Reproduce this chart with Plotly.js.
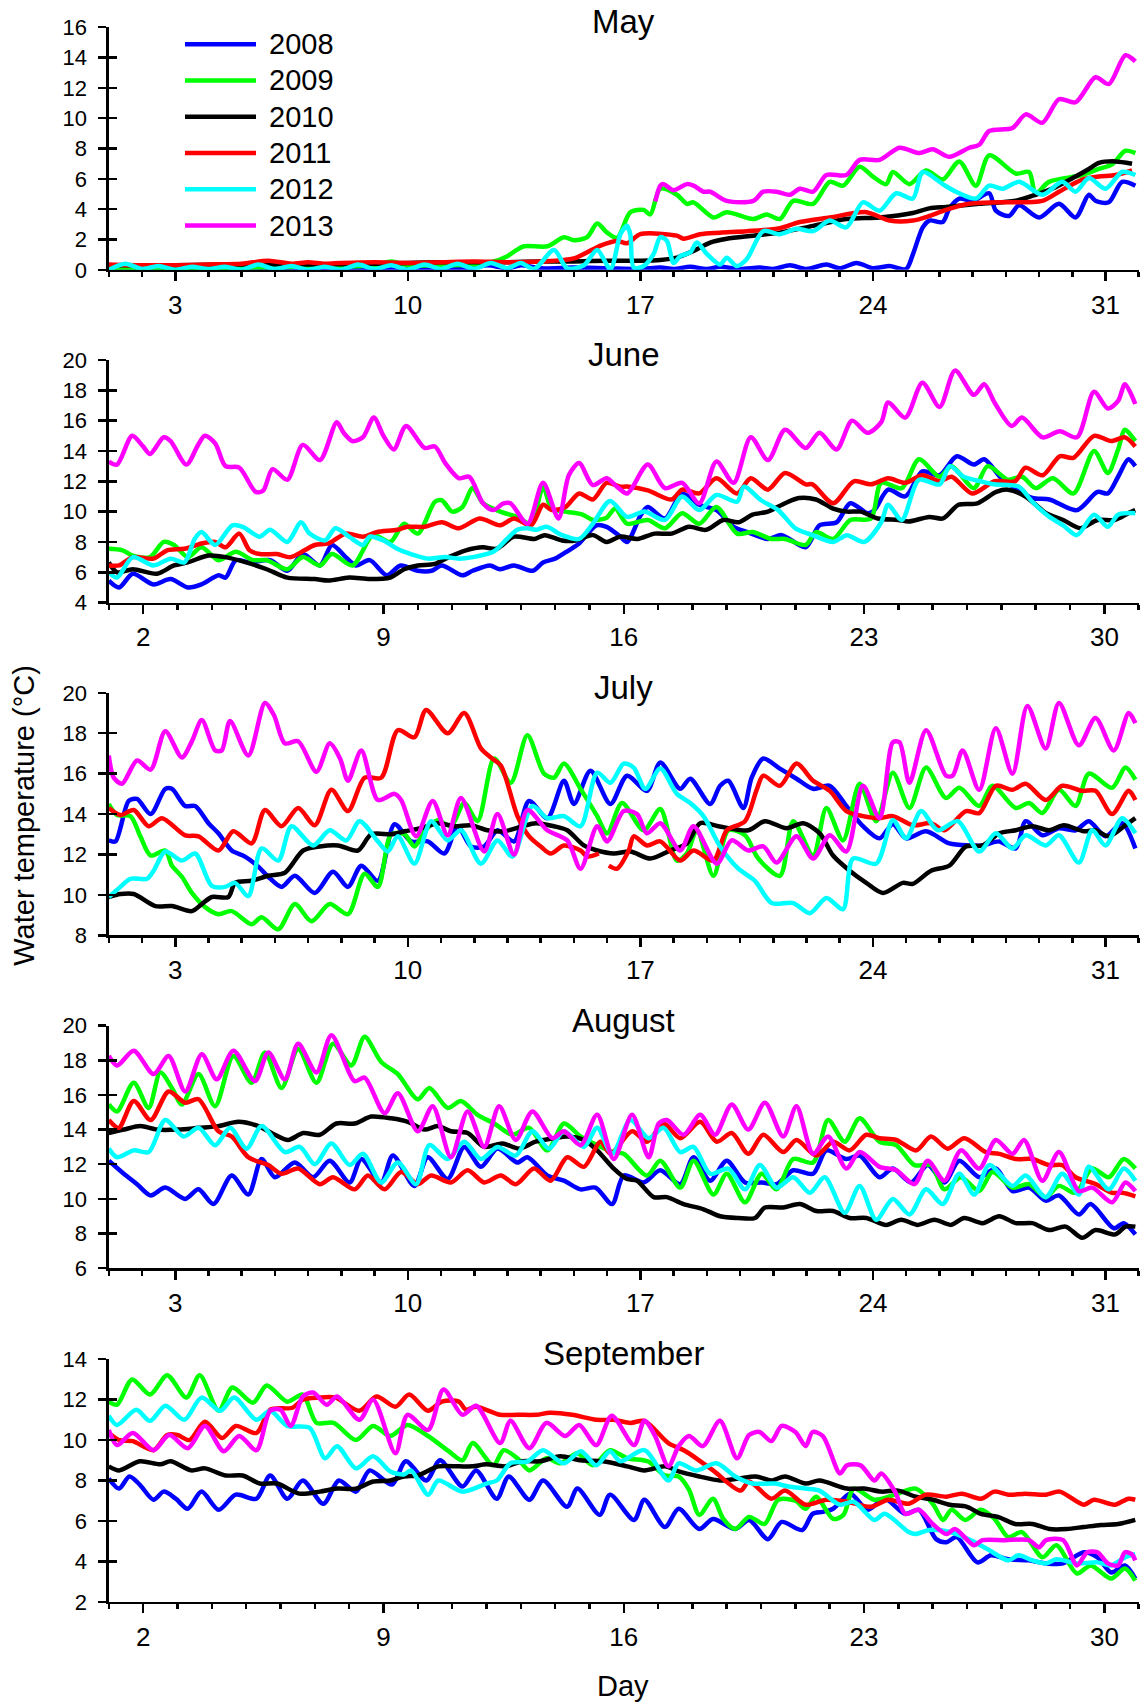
<!DOCTYPE html>
<html><head><meta charset="utf-8">
<script src="https://cdn.plot.ly/plotly-3.0.1.min.js"></script>
<style>html,body{margin:0;padding:0;background:#fff}#chart{width:1142px;height:1706px}</style>
</head><body><div id="chart"></div>
<script>
// ---------------- DATA (day of month, water temperature °C) ----------------
const YEARS = ['2008', '2009', '2010', '2011', '2012', '2013'];
const MONTHS = ['May', 'June', 'July', 'August', 'September'];

// May
const MAY_2008_DAY = [1,2,3,4,5,6,7,8,9,10,11,12,12.4,13,13.4,14,15,16,17,17.6,18,18.5,19,19.4,20,20.6,21,21.5,22,22.6,23,23.5,24,24.2,24.5,25,25.2,25.5,25.7,26.1,26.3,26.6,27,27.5,27.7,28.1,28.4,29,29.6,30.1,30.5,30.7,31.1,31.5,31.9];
const MAY_2008_TEMP = [0.05,0.1,0.05,0.1,0.05,0.1,0.05,0.1,0.1,0.05,0.1,0.15,0.3,0.1,0.3,0.1,0.15,0.1,0.05,0.15,0.05,0.2,0.05,0.2,0.05,0.15,0.05,0.3,0.05,0.35,0.1,0.45,0.1,0.15,0.25,0.05,1.0,2.8,3.25,3.15,4.05,4.7,4.55,5.05,3.9,3.55,4.25,3.45,4.35,3.45,4.95,4.55,4.45,5.8,5.55];
const MAY_2009_DAY = [1,3,5,7,9,9.5,10,11,12,12.5,13,13.2,13.5,14.2,14.7,15,15.4,15.7,16,16.3,16.7,17.1,17.3,17.6,18.1,18.4,18.6,19.2,19.6,20.4,20.8,21.2,21.6,22.2,22.7,23.1,23.6,24,24.4,24.6,25.1,25.6,26.1,26.6,27.1,27.5,28.3,28.7,28.9,29.3,30.3,30.8,31.2,31.6,31.9];
const MAY_2009_TEMP = [0.05,0.1,0.15,0.2,0.3,0.55,0.3,0.3,0.35,0.5,0.9,1.2,1.55,1.55,2.15,1.95,2.15,3.05,2.45,2.1,3.8,3.95,3.65,5.35,4.95,4.35,4.45,3.45,3.8,3.35,3.65,3.35,4.55,4.35,5.8,5.55,6.8,6.15,5.65,6.45,5.65,6.55,5.95,7.15,5.55,7.55,6.35,6.45,5.05,5.8,6.25,6.65,6.95,7.85,7.7];
const MAY_2010_DAY = [1,3,5,7,9,10,11,12,13,14,15,16,17,17.6,18.1,18.6,19.1,19.6,20.4,21.2,22.2,23.2,24.2,25.2,25.7,26.2,27.2,28.3,28.9,29.5,30.1,30.5,30.8,31.3,31.8];
const MAY_2010_TEMP = [0.3,0.3,0.35,0.35,0.4,0.45,0.5,0.5,0.5,0.55,0.55,0.6,0.6,0.65,0.8,1.25,1.8,2.05,2.25,2.45,2.9,3.35,3.45,3.75,4.05,4.15,4.35,4.55,4.95,5.45,6.15,6.65,7.05,7.15,7.0];
const MAY_2011_DAY = [1,2,3,4,5,5.8,6.5,7,7.5,8,9,10,11,12,13,14,15,15.8,16.3,16.6,17,18.1,18.3,18.8,19.4,20.2,21.2,21.8,22.7,23.8,24.5,25.2,25.7,26.2,26.9,27.8,29.1,29.6,30.3,30.8,31.3,31.8];
const MAY_2011_TEMP = [0.35,0.3,0.3,0.35,0.4,0.6,0.4,0.5,0.4,0.45,0.5,0.45,0.5,0.55,0.5,0.55,0.75,1.6,1.9,1.75,2.35,2.25,2.05,2.35,2.45,2.55,2.75,3.15,3.45,3.8,3.25,3.25,3.55,3.95,4.35,4.45,4.55,5.15,5.95,6.15,6.25,6.55];
const MAY_2012_DAY = [1,1.5,2,2.5,3,3.5,4,4.5,5,5.5,6,6.5,7,7.5,8,8.5,9,9.5,10,10.5,11,11.5,12,12.5,13,13.4,13.8,14.4,14.8,15.3,15.7,16.1,16.4,16.6,16.7,16.8,17.1,17.4,17.6,17.8,18,18.2,18.5,18.7,19,19.4,19.6,19.9,20.2,20.7,21.2,21.7,22.2,22.7,23.2,23.7,24.2,24.7,25.2,25.5,26.1,26.5,27.1,27.5,27.9,28.4,29.1,29.7,30.1,30.5,31,31.5,31.9];
const MAY_2012_TEMP = [0.0,0.4,0.05,0.25,0.0,0.2,0.05,0.2,0.0,0.35,0.05,0.25,0.0,0.2,0.0,0.35,0.05,0.3,0.0,0.35,0.05,0.4,0.05,0.45,0.1,0.45,0.05,1.3,0.1,0.3,1.3,0.05,2.35,2.9,2.3,0.15,0.25,1.05,2.15,1.9,0.45,0.9,1.15,1.8,1.05,0.35,0.8,0.25,0.7,2.55,2.35,2.7,2.55,3.25,2.8,4.45,3.9,5.05,4.7,6.45,5.65,5.15,4.7,5.55,5.35,5.8,4.95,5.8,5.15,6.05,5.35,6.45,6.25];
const MAY_2013_DAY = [17.45,17.6,17.7,18,18.4,18.6,18.9,19.1,19.6,20.4,20.7,21.1,21.5,21.8,22.2,22.6,23.2,23.6,24.2,24.8,25.4,25.8,26.3,26.9,27.2,27.5,28.2,28.6,29.1,29.6,30.1,30.7,31.1,31.6,31.9];
const MAY_2013_TEMP = [4.5,5.55,5.65,5.25,5.65,5.55,5.15,5.15,4.55,4.55,5.15,5.15,4.95,5.35,5.15,6.25,6.25,7.25,7.25,8.05,7.7,7.95,7.45,8.05,8.25,9.15,9.35,10.25,9.7,11.25,11.05,12.7,12.25,14.15,13.75];

// June
const JUN_2008_DAY = [1.0,1.3,1.7,2.3,2.8,3.3,3.7,4.2,4.4,4.7,5.1,5.7,6.2,6.65,7.15,7.5,7.9,8.2,8.6,9.1,9.5,10.0,10.4,10.7,11.3,11.6,12.1,12.4,12.8,13.35,13.65,14.0,14.4,14.7,15.2,15.5,15.9,16.1,16.5,16.7,17.2,17.7,18.2,18.7,19.2,19.6,20.2,20.6,21.3,21.7,22.2,22.6,23.1,23.3,23.7,24.2,24.7,25.2,25.7,26.2,26.5,27.0,27.4,27.9,28.4,29.2,29.8,30.1,30.4,30.7,30.9];
const JUN_2008_TEMP = [5.45,5.0,5.9,5.2,5.55,5.0,5.2,5.8,5.65,6.8,6.65,6.8,6.1,7.2,6.45,7.8,7.0,6.45,6.8,5.8,6.45,6.1,6.1,6.45,5.8,6.1,6.45,6.2,6.45,6.1,6.65,6.9,7.45,7.9,9.1,9.0,8.35,8.0,9.8,10.3,9.55,11.2,10.45,10.1,9.0,8.65,8.2,8.45,7.65,9.1,9.3,10.55,9.9,10.1,11.45,11.0,12.65,12.4,13.65,13.1,13.45,12.2,11.55,10.9,10.8,10.1,11.3,11.2,12.3,13.45,13.0];
const JUN_2009_DAY = [1.0,1.4,1.7,2.2,2.6,2.9,3.3,3.7,4.2,4.7,5.2,5.6,6.2,6.65,7.15,7.5,8.1,8.7,9.2,9.6,10.0,10.5,10.7,11.0,11.3,11.6,11.9,12.4,12.9,13.3,13.65,13.9,14.3,14.8,15.1,15.5,15.75,16.1,16.7,17.2,17.7,18.2,18.7,19.3,19.75,20.3,20.7,21.3,21.6,22.1,22.6,23.2,23.5,24.1,24.6,25.2,25.55,26.2,26.6,27.2,27.6,28.0,28.5,29.1,29.7,30.1,30.4,30.6,30.9];
const JUN_2009_TEMP = [7.55,7.45,7.1,7.0,8.0,7.8,7.0,7.65,6.8,7.35,6.8,6.8,6.2,7.0,6.45,7.2,6.45,8.45,8.0,9.2,8.55,10.65,10.75,10.0,10.3,11.55,10.55,10.0,9.65,9.2,11.65,10.2,10.0,9.8,9.45,9.6,10.2,9.2,9.45,8.9,9.9,9.2,10.3,8.55,8.65,8.2,8.2,7.8,8.65,8.2,9.45,9.55,11.9,11.55,13.45,12.3,13.0,11.55,13.0,12.1,12.3,11.55,12.2,11.2,14.0,12.55,14.1,15.4,14.65];
const JUN_2010_DAY = [1.0,1.24,1.7,2.4,2.9,3.3,3.9,4.4,5.0,5.6,6.2,7.0,7.4,8.0,8.6,9.2,9.6,10.0,10.5,10.9,11.4,11.9,12.3,12.8,13.4,13.7,14.2,14.6,15.1,15.5,15.9,16.4,16.9,17.4,17.9,18.4,18.9,19.35,19.75,20.2,20.7,21.1,21.6,22.1,22.5,22.9,23.4,24.0,24.3,24.9,25.3,25.75,26.3,26.85,27.2,27.7,28.3,28.8,29.3,29.8,30.3,30.7,30.9];
const JUN_2010_TEMP = [6.65,6.0,6.2,5.9,6.45,6.65,7.1,7.0,6.65,6.2,5.65,5.55,5.45,5.65,5.55,5.65,6.2,6.45,6.55,7.0,7.45,7.65,7.55,8.35,8.2,8.45,8.1,8.1,8.45,8.0,8.35,8.2,8.55,8.55,9.0,8.8,9.45,9.3,9.8,10.0,10.55,10.9,10.8,10.2,10.0,10.0,9.55,9.45,9.35,9.65,9.55,10.45,10.55,11.3,11.45,11.0,9.9,9.45,8.9,9.45,9.45,9.9,10.1];
const JUN_2011_DAY = [1.0,1.3,1.7,2.3,2.7,3.2,3.7,4.1,4.4,4.8,5.1,5.4,5.9,6.3,6.7,7.0,7.4,7.9,8.4,8.8,9.4,9.7,10.2,10.7,11.2,11.8,12.4,12.8,13.3,13.65,13.9,14.3,14.7,15.1,15.5,15.9,16.1,16.7,17.4,17.7,18.2,18.7,19.3,19.7,20.2,20.7,21.3,21.5,22.1,22.7,23.2,23.7,24.2,24.7,25.2,25.55,26.15,26.8,27.4,27.7,28.2,28.7,29.1,29.7,30.2,30.6,30.9];
const JUN_2011_TEMP = [6.45,6.45,7.0,6.9,7.45,7.55,7.9,8.0,7.65,8.55,7.45,7.2,7.2,7.0,7.45,7.8,7.9,8.55,8.35,8.65,8.8,9.0,9.0,9.3,8.9,9.55,9.1,9.55,9.1,10.45,10.1,10.3,11.2,10.8,11.9,11.65,11.65,11.4,10.8,11.45,11.2,12.2,11.2,12.2,11.45,12.55,11.8,11.8,10.55,12.0,11.8,12.2,11.9,12.4,12.0,12.3,11.2,12.0,12.0,12.9,12.4,13.65,13.55,15.0,14.65,14.9,14.3];
const JUN_2012_DAY = [1.0,1.24,1.7,2.3,2.8,3.2,3.5,3.7,4.1,4.6,4.9,5.4,5.7,6.2,6.6,6.85,7.3,7.6,8.0,8.4,8.6,9.0,9.4,9.8,10.3,10.8,11.2,11.6,12.2,12.6,12.9,13.2,13.45,13.75,14.2,14.7,15.1,15.6,16.1,16.6,17.2,17.7,18.2,18.7,19.3,19.5,20.0,20.5,21.0,21.5,22.1,22.5,23.0,23.5,23.7,24.1,24.6,25.2,25.5,25.9,26.4,26.8,27.5,27.9,28.4,28.8,29.2,29.7,30.1,30.4,30.9];
const JUN_2012_TEMP = [6.0,5.65,7.0,6.45,6.9,6.65,8.2,8.65,7.8,9.1,9.0,8.35,8.8,8.0,9.3,8.55,8.1,8.9,8.35,7.8,8.35,8.1,7.55,7.2,6.9,7.0,6.9,7.0,7.35,8.2,8.8,8.9,8.8,9.0,8.45,8.2,9.2,10.7,9.65,10.0,9.45,11.0,10.1,11.1,10.65,11.65,10.75,10.1,8.9,8.45,8.0,8.45,8.0,9.3,10.45,9.45,12.1,11.8,13.0,12.3,12.0,11.8,11.65,10.65,9.65,9.1,8.45,9.8,9.0,9.8,9.9];
const JUN_2013_DAY = [1.0,1.24,1.68,2.0,2.2,2.6,2.8,3.26,3.6,3.8,4.1,4.4,4.8,5.28,5.5,5.77,6.2,6.65,7.15,7.64,7.84,8.1,8.4,8.72,9.0,9.3,9.66,10.2,10.5,10.8,11.2,11.5,11.9,12.2,12.5,12.7,13.2,13.65,14.1,14.4,14.7,15.1,15.5,15.8,16.1,16.7,17.2,17.7,18.2,18.7,19.2,19.7,20.2,20.7,21.3,21.7,22.2,22.65,23.1,23.5,23.7,24.2,24.7,25.2,25.65,26.2,26.5,26.8,27.3,27.6,28.2,28.7,29.2,29.7,30.1,30.4,30.6,30.9];
const JUN_2013_TEMP = [13.3,13.1,15.0,14.3,13.8,14.9,14.65,13.1,14.4,15.0,14.5,13.0,12.9,11.3,11.4,12.8,12.1,14.4,13.4,15.9,15.2,14.65,14.9,16.2,15.0,14.1,15.65,14.2,14.3,13.2,12.2,12.3,10.55,10.1,10.55,10.55,9.2,11.9,9.55,12.4,13.2,11.75,12.2,11.65,11.2,13.1,11.55,11.9,10.55,13.3,11.9,14.9,13.4,15.4,14.2,15.2,14.1,16.0,15.2,15.9,17.2,16.2,18.5,16.9,19.3,17.7,18.4,17.2,15.65,16.2,14.9,15.3,14.9,17.9,16.8,17.3,18.4,17.1];

// July
const JUL_2008_DAY = [1.0,1.2,1.6,1.85,2.26,2.7,2.9,3.3,3.6,4.0,4.3,4.7,5.1,5.5,5.8,6.2,6.6,7.2,7.75,8.2,8.6,9.1,9.6,10.1,10.6,11.1,11.5,11.9,12.3,12.7,13.2,13.65,14.2,14.7,15.0,15.5,16.1,16.6,17.2,17.6,18.2,18.5,19.1,19.4,19.65,20.1,20.35,20.7,21.2,21.7,22.2,22.7,23.2,23.7,24.2,24.6,25.0,25.6,26.3,26.9,27.3,27.8,28.3,28.6,29.1,29.6,30.1,30.5,31.0,31.5,31.9];
const JUL_2008_TEMP = [12.7,12.65,14.65,14.75,14.0,15.25,15.25,14.4,14.4,13.55,13.05,12.2,11.9,11.4,10.9,10.4,10.95,10.1,11.15,10.4,11.45,10.7,13.5,12.65,12.65,12.05,13.4,12.4,12.4,13.2,12.65,14.65,13.8,15.65,14.5,16.15,14.5,15.9,15.15,16.55,15.25,15.75,14.5,15.4,15.65,14.3,15.8,16.75,16.25,15.75,15.25,15.4,14.4,13.4,12.8,13.5,12.8,13.15,12.55,12.45,12.45,12.65,12.3,13.65,12.95,13.3,13.2,13.65,12.9,13.55,12.3];
const JUL_2009_DAY = [1.0,1.25,1.65,1.95,2.26,2.7,2.9,3.2,3.5,3.9,4.3,4.7,5.3,5.6,6.1,6.6,7.1,7.65,8.2,8.7,9.1,9.5,9.9,10.2,10.5,10.9,11.3,11.7,12.1,12.6,13.1,13.6,14.1,14.4,14.7,15.2,15.7,16.0,16.45,17.1,17.6,18.1,18.4,18.7,19.2,19.65,20.15,20.55,21.2,21.6,22.2,22.6,23.1,23.6,24.1,24.6,25.1,25.6,26.2,26.6,27.2,27.6,28.3,28.7,29.1,29.6,30.1,30.5,31.2,31.6,31.9];
const JUL_2009_TEMP = [14.5,13.95,13.9,12.9,11.95,12.2,11.45,10.9,10.1,9.4,9.05,9.2,8.55,8.9,8.3,9.55,8.7,9.55,9.05,11.05,10.4,13.0,13.0,12.4,13.15,13.7,13.4,14.55,13.65,16.75,15.55,17.9,16.0,15.8,16.5,15.25,13.9,13.05,14.55,13.2,14.25,11.7,12.05,13.2,10.95,13.2,12.95,11.8,10.95,13.65,11.95,14.3,12.7,15.5,13.65,16.05,14.3,16.3,14.8,15.3,14.4,15.4,14.3,14.55,14.05,15.2,14.4,16.0,15.3,16.3,15.7];
const JUL_2010_DAY = [1.0,1.35,1.75,2.4,2.9,3.5,3.8,4.1,4.6,4.8,5.3,5.8,6.3,6.85,7.35,7.9,8.5,8.9,9.5,9.9,10.4,10.9,11.4,11.9,12.4,12.9,13.45,13.85,14.4,14.8,15.3,15.7,16.2,16.7,17.3,17.9,18.4,18.8,19.35,20.25,20.75,21.4,21.9,22.4,22.8,23.3,23.8,24.3,24.9,25.2,25.75,26.3,26.8,27.3,27.8,28.3,28.8,29.3,29.75,30.35,30.7,31.1,31.6,31.9];
const JUL_2010_TEMP = [9.9,10.05,10.05,9.45,9.45,9.2,9.55,9.9,9.9,10.6,10.7,10.95,11.1,12.2,12.4,12.45,12.2,13.0,13.0,13.15,13.3,13.55,13.4,13.45,13.2,13.15,13.4,13.55,13.4,13.2,12.45,12.2,12.05,12.15,11.8,12.2,12.55,13.55,13.4,13.2,13.65,13.3,13.55,13.05,11.95,11.2,10.6,10.1,10.6,10.55,11.2,11.45,12.4,12.45,13.05,13.2,13.4,13.2,13.45,13.15,13.2,12.9,13.45,13.8];
const JUL_2011_DAY = [1.0,1.35,1.75,2.2,2.6,3.3,3.7,4.3,4.75,5.3,5.7,6.2,6.7,7.2,7.7,8.2,8.7,9.2,9.7,10.2,10.55,11.2,11.7,12.2,12.5,12.8,13.3,13.65,14.0,14.3,14.7,15.2,15.4,15.75,15.9,16.05,16.3,16.65,16.8,17.2,17.6,18.2,18.6,19.2,19.6,20.15,20.5,20.7,21.2,21.7,22.2,22.7,23.2,23.7,24.2,24.6,25.2,25.75,26.15,26.8,27.2,27.7,28.2,28.6,29.2,29.7,30.3,30.7,31.2,31.7,31.9];
const JUL_2011_TEMP = [14.3,13.95,14.2,13.4,13.8,12.95,12.9,12.2,13.15,12.55,14.2,13.4,14.3,13.45,15.2,14.15,15.8,15.8,18.15,17.8,19.15,18.0,19.0,17.25,16.8,16.4,13.9,12.9,12.4,12.05,12.45,12.2,11.9,12.05,null,11.45,11.3,12.2,12.9,12.45,12.65,11.7,12.2,11.7,13.2,13.65,15.2,15.9,15.4,16.5,15.65,15.15,14.15,13.9,13.8,13.9,13.45,13.55,13.2,14.15,14.05,15.4,15.2,15.5,14.7,15.4,15.15,15.15,14.0,15.15,14.7];
const JUL_2012_DAY = [1.0,1.35,1.65,2.15,2.35,2.7,3.2,3.6,4.1,4.5,4.8,5.2,5.6,6.1,6.5,7.15,7.65,8.15,8.55,9.1,9.4,9.7,10.2,10.7,11.2,11.6,12.2,12.7,13.15,13.75,14.2,14.7,15.2,15.7,16.1,16.5,16.8,17.15,17.6,18.1,18.5,18.9,19.4,19.95,20.45,20.95,21.6,22.1,22.6,23.1,23.4,24.1,24.6,25.0,25.45,25.95,26.55,27.2,27.7,28.2,28.6,29.2,29.6,30.2,30.6,31.0,31.5,31.9];
const JUL_2012_TEMP = [9.9,10.4,10.8,10.8,11.2,12.15,11.7,12.05,10.45,10.4,10.6,9.95,12.3,11.7,13.4,12.45,13.2,12.7,13.65,12.65,12.15,12.9,11.55,13.65,12.7,13.2,11.55,12.7,11.9,14.4,13.8,13.9,13.4,16.05,15.55,16.5,16.3,15.25,16.25,15.0,14.55,13.9,12.4,11.3,10.7,9.6,9.6,9.1,9.85,9.3,11.8,11.55,13.7,12.8,14.15,13.2,13.65,12.15,13.05,12.3,12.95,12.45,12.95,11.6,13.2,12.45,13.8,13.05];
const JUL_2013_DAY = [1.0,1.15,1.4,1.85,2.26,2.7,3.2,3.5,3.8,4.2,4.4,4.65,5.2,5.7,5.97,6.3,6.7,7.25,7.65,7.96,8.2,8.6,9.1,9.6,9.8,10.25,10.75,11.2,11.6,12.3,12.7,13.2,13.6,14.2,14.8,15.2,15.7,16.0,16.5,16.9,17.2,17.6,18.2,18.6,19.3,19.75,20.25,20.7,21.1,21.7,22.2,22.7,23.2,23.7,24.2,24.6,24.8,25.1,25.6,26.2,26.4,26.7,27.2,27.7,28.2,28.65,29.2,29.6,30.2,30.7,31.25,31.7,31.9];
const JUL_2013_TEMP = [16.9,15.8,15.5,16.65,16.2,18.1,16.8,17.6,18.65,17.15,17.15,18.6,16.9,19.5,18.9,17.5,17.6,16.1,17.5,16.75,15.65,17.15,14.7,15.0,14.7,12.9,14.65,12.95,14.8,12.15,14.0,12.0,14.2,13.2,12.7,11.3,13.4,12.65,14.15,14.0,13.05,13.55,12.2,13.4,11.55,12.7,12.2,12.4,11.6,12.9,11.8,12.95,12.15,15.4,13.8,17.55,17.55,15.55,18.15,15.9,15.9,17.15,15.2,18.25,16.0,19.35,17.25,19.5,17.4,18.75,17.15,19.0,18.5];

// August
const AUG_2008_DAY = [1.0,1.45,1.85,2.26,2.7,3.3,3.7,4.15,4.7,5.2,5.6,6.0,6.6,7.15,7.65,8.25,8.6,9.2,9.55,10.2,10.6,11.2,11.7,12.2,12.7,13.3,13.6,14.2,14.7,15.2,15.65,16.15,16.5,17.1,17.6,18.2,18.6,19.1,19.6,20.15,20.65,21.1,21.6,22.2,22.6,23.2,23.6,24.2,24.6,25.15,25.65,26.15,26.6,27.2,27.7,28.2,28.7,29.2,29.6,30.2,30.55,31.25,31.55,31.9];
const AUG_2008_TEMP = [12.2,11.45,10.85,10.2,10.65,10.0,10.55,9.7,11.35,10.25,12.3,11.25,12.1,11.25,12.2,10.95,12.3,10.95,12.5,10.75,12.4,11.15,13.0,11.85,12.9,12.1,12.4,11.35,11.05,10.55,10.65,9.7,11.35,10.95,11.65,10.85,12.4,11.05,12.2,10.95,10.95,10.85,11.65,11.45,12.8,12.3,12.5,11.25,11.75,10.95,11.95,10.95,12.2,11.25,11.75,10.45,10.65,9.9,10.2,9.1,9.7,8.3,8.6,7.95];
const AUG_2009_DAY = [1.0,1.25,1.75,2.2,2.55,2.9,3.2,3.7,4.2,4.75,5.3,5.7,6.2,6.7,7.25,7.75,8.3,8.7,9.2,9.7,10.3,10.65,11.2,11.6,12.1,12.6,13.15,13.65,14.2,14.7,15.2,15.7,16.2,16.5,17.2,17.6,18.2,18.6,19.2,19.6,20.15,20.65,21.1,21.6,22.2,22.65,23.15,23.6,24.2,24.7,25.25,25.75,26.15,26.65,27.2,27.6,28.2,28.7,29.2,29.6,30.1,30.6,31.1,31.55,31.9];
const AUG_2009_TEMP = [15.45,15.05,16.7,15.25,17.3,16.4,15.45,17.2,15.35,18.25,16.7,18.45,16.4,18.65,16.7,18.95,17.7,19.35,17.9,17.2,15.75,16.4,15.25,15.65,14.85,14.35,13.7,14.1,12.8,14.35,13.6,13.1,12.7,12.6,11.35,12.2,10.65,12.2,10.25,11.45,9.8,11.45,10.55,12.3,12.1,14.55,13.3,14.65,13.3,13.1,11.95,11.95,10.55,11.25,10.45,11.55,10.65,10.85,10.1,10.75,10.35,11.75,11.25,12.3,11.75];
const AUG_2010_DAY = [1.0,1.45,1.95,2.45,3.1,3.7,4.3,4.9,5.5,6.0,6.4,6.85,7.35,7.85,8.4,8.9,9.5,10.0,10.5,10.9,11.3,11.8,12.3,12.85,13.35,13.85,14.4,14.8,15.3,15.7,16.2,16.6,16.9,17.4,17.8,18.3,18.9,19.4,19.95,20.45,20.75,21.3,21.8,22.3,22.8,23.3,23.8,24.4,24.85,25.35,25.85,26.35,26.75,27.3,27.8,28.3,28.8,29.3,29.8,30.3,30.7,31.3,31.6,31.9];
const AUG_2010_TEMP = [13.8,14.0,14.2,14.0,14.0,14.1,14.2,14.45,14.2,13.7,13.4,13.8,13.7,14.35,14.35,14.75,14.65,14.45,14.0,14.2,13.9,13.8,13.0,13.2,12.9,13.3,13.5,13.6,13.4,12.8,11.75,11.15,11.05,10.1,10.1,9.7,9.4,9.0,8.9,8.9,9.5,9.5,9.7,9.3,9.3,8.9,8.9,8.5,8.8,8.5,8.8,8.5,8.9,8.6,9.0,8.6,8.6,8.2,8.4,7.75,8.2,7.95,8.4,8.4];
const AUG_2011_DAY = [1.0,1.3,1.75,2.26,2.8,3.3,3.7,4.3,4.7,5.2,5.8,6.2,6.7,7.35,7.75,8.4,8.8,9.3,9.8,10.3,10.7,11.3,11.8,12.3,12.8,13.25,13.8,14.3,14.8,15.3,15.8,16.1,16.75,17.2,17.7,18.2,18.8,19.3,19.75,20.25,20.7,21.3,21.7,22.3,22.8,23.3,23.8,24.2,24.7,25.3,25.75,26.25,26.75,27.4,27.8,28.3,28.8,29.3,29.7,30.1,30.7,31.2,31.5,31.9];
const AUG_2011_TEMP = [14.55,14.1,15.65,14.55,16.2,15.55,15.75,13.9,13.6,12.4,11.95,11.45,11.75,10.85,11.25,10.55,11.35,10.55,11.55,10.85,11.35,10.95,11.65,10.95,11.35,10.85,11.75,11.05,12.4,11.85,13.3,12.6,13.9,13.3,14.35,13.5,14.45,13.3,13.8,12.6,13.7,12.7,13.4,12.5,13.3,12.8,13.7,13.5,13.4,12.8,13.6,12.9,13.5,12.7,12.6,12.3,12.3,11.95,11.95,11.25,10.85,10.35,10.35,10.15];
const AUG_2012_DAY = [1.0,1.25,1.75,2.2,2.7,3.25,3.7,4.2,4.65,5.15,5.6,6.3,6.75,7.2,7.7,8.25,8.65,9.2,9.7,10.25,10.65,11.2,11.7,12.2,12.7,13.25,13.75,14.25,14.7,15.3,15.7,16.15,16.7,17.25,17.7,18.2,18.6,19.1,19.65,20.15,20.6,21.1,21.6,22.1,22.55,23.15,23.6,24.1,24.6,25.1,25.6,26.1,26.6,27.05,27.5,28.2,28.6,29.2,29.7,30.2,30.5,31.1,31.55,31.9];
const AUG_2012_TEMP = [12.9,12.4,12.8,12.7,14.55,13.6,14.1,13.1,14.1,12.9,14.2,12.7,13.0,12.0,13.2,11.95,12.6,10.95,12.1,10.85,13.1,12.3,13.3,12.3,13.0,12.5,13.9,12.9,13.9,13.0,14.1,12.6,14.55,13.5,14.1,12.7,13.0,11.45,11.75,10.55,11.95,10.65,11.25,10.35,11.25,9.2,10.75,8.8,10.0,9.1,10.55,9.7,11.45,10.25,11.95,10.75,11.35,10.1,11.45,10.25,11.85,10.55,11.75,11.05];
const AUG_2013_DAY = [1.0,1.25,1.75,2.35,2.8,3.3,3.8,4.25,4.75,5.4,5.8,6.3,6.7,7.25,7.7,8.4,8.7,9.3,9.7,10.3,10.75,11.3,11.8,12.3,12.75,13.25,13.75,14.35,14.7,15.2,15.7,16.2,16.75,17.25,17.55,17.8,18.3,18.8,19.25,19.75,20.25,20.75,21.3,21.7,22.2,22.65,23.2,23.6,24.2,24.7,25.25,25.65,26.15,26.65,27.2,27.7,28.2,28.55,29.1,29.6,30.2,30.6,31.2,31.6,31.9];
const AUG_2013_TEMP = [18.25,17.7,18.55,17.2,18.25,16.2,18.35,16.9,18.55,16.8,18.45,16.9,18.95,17.3,19.45,16.8,17.0,14.95,16.1,13.9,15.35,12.4,15.05,13.0,15.35,13.4,15.05,13.5,13.9,13.1,14.85,12.3,14.85,12.4,14.35,14.55,13.7,14.85,13.7,15.45,14.0,15.55,13.6,15.35,12.6,13.6,11.75,12.7,11.85,11.65,10.85,12.2,11.05,12.8,11.75,13.4,12.6,13.4,11.05,12.7,10.45,10.65,9.8,10.95,10.45];

// September
const SEP_2008_DAY = [1.0,1.3,1.6,1.9,2.3,2.6,2.95,3.3,3.7,4.2,4.7,5.3,5.7,6.2,6.65,7.25,7.7,8.2,8.6,9.25,9.65,10.25,10.65,11.3,11.7,12.3,12.65,13.25,13.65,14.35,14.65,15.3,15.6,16.3,16.6,17.2,17.6,18.2,18.6,19.25,19.65,20.2,20.6,21.2,21.5,21.8,22.1,22.6,23.1,23.6,24.2,24.6,25.1,25.4,25.7,26.3,26.7,27.2,27.8,28.3,28.8,29.4,29.8,30.2,30.6,30.9];
const SEP_2008_TEMP = [8.1,7.6,8.2,7.8,7.05,7.45,7.1,6.6,7.45,6.55,7.3,7.1,8.25,7.1,8.0,6.85,8.0,7.45,8.5,7.8,8.95,8.0,9.0,7.7,8.5,7.1,8.2,7.05,8.0,6.7,7.6,6.3,7.3,6.05,7.05,5.7,6.6,5.6,6.1,5.6,6.05,5.1,5.95,5.55,6.35,6.45,6.6,7.35,6.55,7.1,6.35,6.55,5.1,4.95,5.2,3.95,4.3,4.1,4.05,3.9,3.9,4.45,4.2,3.45,3.8,3.15];
const SEP_2009_DAY = [1.0,1.24,1.68,2.2,2.7,3.26,3.65,4.2,4.6,5.2,5.6,6.2,6.65,7.05,7.55,8.2,8.7,9.2,9.7,10.3,10.9,11.3,11.6,12.2,12.5,12.9,13.25,13.75,14.15,14.65,15.1,15.6,16.1,16.7,17.2,17.6,17.9,18.2,18.6,18.9,19.25,19.65,20.1,20.5,21.0,21.3,21.6,22.1,22.4,22.7,23.3,23.9,24.5,25.0,25.3,25.55,25.95,26.4,26.8,27.2,27.6,28.2,28.6,29.2,29.6,30.2,30.6,30.9];
const SEP_2009_TEMP = [11.9,11.75,13.0,12.25,13.2,12.1,13.2,11.45,12.6,11.85,12.7,11.9,12.25,10.85,10.85,10.0,10.7,10.2,10.75,10.2,9.45,9.0,9.85,8.75,9.5,9.1,8.5,9.1,8.85,9.35,8.75,9.5,9.1,8.95,8.25,8.2,7.55,6.3,7.1,6.1,5.6,6.2,5.85,7.05,7.0,6.6,7.2,6.1,6.3,7.6,7.05,7.3,7.6,6.85,6.05,6.55,6.05,6.55,6.1,5.2,5.45,4.2,4.8,3.4,3.8,3.15,3.65,3.05];
const SEP_2010_DAY = [1.0,1.3,1.9,2.5,2.8,3.4,3.8,4.4,4.9,5.4,5.9,6.55,7.15,7.65,8.2,8.7,9.2,9.6,10.0,10.6,11.2,11.6,12.0,12.55,13.05,13.55,14.15,14.75,15.4,16.1,16.6,17.2,17.6,18.2,18.8,19.35,19.85,20.3,20.7,21.3,21.7,22.5,23.0,23.5,24.0,24.5,25.0,25.5,26.0,26.4,26.9,27.4,27.9,28.4,28.9,29.4,29.9,30.4,30.9];
const SEP_2010_TEMP = [8.7,8.5,8.95,8.8,8.95,8.5,8.6,8.25,8.25,7.85,7.85,7.35,7.45,7.6,7.6,7.95,8.0,8.2,8.25,8.7,8.7,8.7,8.8,8.7,8.95,8.95,9.2,9.0,8.95,8.7,8.5,8.7,8.45,8.2,8.0,8.1,8.2,8.0,8.2,7.85,8.0,7.6,7.6,7.45,7.5,7.2,7.05,6.8,6.7,6.35,6.2,5.85,5.85,5.6,5.6,5.7,5.8,5.85,6.05];
const SEP_2011_DAY = [1.0,1.3,1.7,2.3,2.7,3.0,3.35,3.8,4.3,4.7,5.3,5.7,6.35,6.65,7.1,7.6,8.3,8.8,9.35,9.75,10.3,10.7,11.2,11.4,11.7,12.4,12.9,13.45,13.85,14.5,15.2,15.7,16.2,16.6,17.3,17.8,18.6,19.4,19.65,20.3,20.7,21.3,21.9,22.5,23.2,23.7,24.3,24.8,25.4,25.85,26.4,26.8,27.2,27.7,28.3,28.7,29.4,29.7,30.3,30.7,30.9];
const SEP_2011_TEMP = [10.35,10.0,9.95,9.5,10.25,10.25,10.0,10.9,10.1,10.7,10.35,11.5,11.6,12.0,12.1,12.1,11.45,12.15,11.65,12.25,11.45,11.9,11.9,11.5,11.65,11.25,11.25,11.25,11.35,11.25,11.0,11.0,10.85,10.95,9.85,9.45,8.5,7.5,7.95,7.1,7.5,6.8,7.05,6.95,6.7,7.05,6.85,7.3,7.2,7.35,7.1,7.45,7.3,7.35,7.3,7.45,6.8,7.05,6.8,7.1,7.05];
const SEP_2012_DAY = [1.0,1.24,1.8,2.2,2.65,3.2,3.7,4.25,4.65,5.3,5.7,6.2,6.85,7.3,7.65,8.2,8.7,9.2,9.6,9.8,10.3,10.6,11.3,12.0,12.3,12.7,13.2,13.65,14.25,14.75,15.2,15.6,15.9,16.6,17.3,17.6,18.1,18.7,19.25,19.75,20.4,20.8,21.3,21.7,22.3,22.7,23.3,23.6,24.3,24.5,24.9,25.5,26.1,26.6,27.2,27.5,27.9,28.3,28.6,29.2,29.8,30.2,30.6,30.9];
const SEP_2012_TEMP = [11.2,10.75,11.5,10.95,11.7,11.0,12.1,11.45,12.1,11.0,11.45,10.7,10.6,9.1,9.7,8.6,9.2,8.45,8.3,8.5,7.3,8.0,7.45,7.85,8.0,8.85,8.95,9.5,8.85,9.45,8.75,9.45,8.95,9.5,8.0,8.85,8.5,8.85,8.2,7.85,7.85,7.7,7.6,7.5,6.8,6.95,6.05,6.35,5.45,5.35,5.55,5.45,5.05,4.6,4.05,4.3,4.05,3.9,4.1,3.9,3.95,3.8,4.2,4.35];
const SEP_2013_DAY = [1.0,1.24,1.7,2.3,2.76,3.3,3.8,4.35,4.8,5.3,5.7,6.0,6.3,6.65,6.95,7.35,7.65,8.3,8.7,9.35,9.7,10.3,10.75,11.3,11.7,12.4,12.7,13.25,13.75,14.3,14.7,15.2,15.65,16.3,16.6,16.9,17.3,17.6,17.9,18.3,18.8,19.3,19.65,19.95,20.3,20.6,21.0,21.3,21.5,21.8,22.3,22.5,22.9,23.3,23.5,23.9,24.2,24.6,25.0,25.4,25.65,26.2,26.45,27.1,27.8,28.1,28.3,28.8,29.2,29.5,29.8,30.1,30.4,30.6,30.8,30.9];
const SEP_2013_TEMP = [10.5,9.75,10.35,9.5,10.25,9.6,10.7,9.45,10.2,9.5,11.45,11.5,10.7,12.15,12.35,11.75,12.15,11.0,12.0,9.35,11.25,10.5,12.5,11.25,11.7,9.85,10.95,9.6,10.85,10.2,10.75,9.75,11.2,9.75,10.95,10.25,8.7,9.7,10.2,9.7,10.95,9.1,10.25,10.4,9.95,10.7,10.4,9.7,10.4,10.2,8.35,8.75,8.75,8.0,8.35,7.45,6.35,6.55,5.85,5.35,5.6,4.8,5.05,5.05,5.05,4.7,5.05,5.05,3.8,4.45,4.45,3.9,3.8,4.45,4.35,4.05];

// Axis settings per month
const X_END = [32, 31, 32, 32, 31];          // axis end (day after last day)
const X_MAJOR_START = [3, 2, 3, 3, 2];       // first labelled day
const Y_RANGE = [[0, 16], [4, 20], [8, 20], [6, 20], [2, 14]];

// ---------------- TABLE BUILT FROM THE ARRAYS ----------------
const SERIES = [
  [[MAY_2008_DAY, MAY_2008_TEMP], [MAY_2009_DAY, MAY_2009_TEMP], [MAY_2010_DAY, MAY_2010_TEMP], [MAY_2011_DAY, MAY_2011_TEMP], [MAY_2012_DAY, MAY_2012_TEMP], [MAY_2013_DAY, MAY_2013_TEMP]],
  [[JUN_2008_DAY, JUN_2008_TEMP], [JUN_2009_DAY, JUN_2009_TEMP], [JUN_2010_DAY, JUN_2010_TEMP], [JUN_2011_DAY, JUN_2011_TEMP], [JUN_2012_DAY, JUN_2012_TEMP], [JUN_2013_DAY, JUN_2013_TEMP]],
  [[JUL_2008_DAY, JUL_2008_TEMP], [JUL_2009_DAY, JUL_2009_TEMP], [JUL_2010_DAY, JUL_2010_TEMP], [JUL_2011_DAY, JUL_2011_TEMP], [JUL_2012_DAY, JUL_2012_TEMP], [JUL_2013_DAY, JUL_2013_TEMP]],
  [[AUG_2008_DAY, AUG_2008_TEMP], [AUG_2009_DAY, AUG_2009_TEMP], [AUG_2010_DAY, AUG_2010_TEMP], [AUG_2011_DAY, AUG_2011_TEMP], [AUG_2012_DAY, AUG_2012_TEMP], [AUG_2013_DAY, AUG_2013_TEMP]],
  [[SEP_2008_DAY, SEP_2008_TEMP], [SEP_2009_DAY, SEP_2009_TEMP], [SEP_2010_DAY, SEP_2010_TEMP], [SEP_2011_DAY, SEP_2011_TEMP], [SEP_2012_DAY, SEP_2012_TEMP], [SEP_2013_DAY, SEP_2013_TEMP]]
];

// ---------------- STYLE / GEOMETRY ----------------
const COLORS = ['#0000ff', '#00ff00', '#000000', '#ff0000', '#00ffff', '#ff00ff'];
const FONT = 'Liberation Sans, Arial, Helvetica, sans-serif';
const W = 1142, H = 1706;
const PLOT_L = 108.8, PLOT_R = 1138.7;
const PANEL_TOP = [27.2, 360.0, 692.8, 1025.6, 1359.2];
const PANEL_H = 242.6;

const traces = [];
const layout = {
  width: W, height: H,
  margin: {l: 0, r: 0, t: 0, b: 0},
  paper_bgcolor: '#ffffff', plot_bgcolor: 'rgba(0,0,0,0)',
  font: {family: FONT, color: '#000000'},
  showlegend: true,
  legend: {
    x: 180 / W, y: 1 - 21 / H, xanchor: 'left', yanchor: 'top',
    bgcolor: 'rgba(0,0,0,0)', borderwidth: 0,
    font: {family: FONT, size: 25.6, color: '#000000'},
    itemwidth: 71, traceorder: 'normal'
  },
  annotations: []
};

for (let p = 0; p < 5; p++) {
  const xn = p === 0 ? 'x' : 'x' + (p + 1);
  const yn = p === 0 ? 'y' : 'y' + (p + 1);
  const yIn = 'y' + (p + 6);
  const top = PANEL_TOP[p], bot = top + PANEL_H;
  const dom = [1 - bot / H, 1 - top / H];

  layout['xaxis' + (p === 0 ? '' : p + 1)] = {
    domain: [PLOT_L / W, PLOT_R / W], anchor: yn,
    range: [1, X_END[p]], tickmode: 'linear', tick0: X_MAJOR_START[p], dtick: 7,
    ticks: 'outside', ticklen: 9, tickwidth: 2.5, tickcolor: '#000',
    minor: {tickmode: 'linear', tick0: 1, dtick: 1, ticks: 'outside', ticklen: 5, tickwidth: 2.5, tickcolor: '#000'},
    showline: true, linewidth: 2.5, linecolor: '#000',
    showgrid: false, zeroline: false, fixedrange: true,
    tickfont: {family: FONT, size: 26, color: '#000'}, ticklabelstandoff: 1
  };
  layout['yaxis' + (p === 0 ? '' : p + 1)] = {
    domain: dom, anchor: xn,
    range: Y_RANGE[p], tickmode: 'linear', tick0: Y_RANGE[p][0], dtick: 2,
    ticks: 'outside', ticklen: 8, tickwidth: 2.5, tickcolor: '#000',
    showline: true, linewidth: 2.5, linecolor: '#000',
    showgrid: false, zeroline: false, fixedrange: true,
    tickfont: {family: FONT, size: 22, color: '#000'}, ticklabelstandoff: 7
  };
  // companion axis so the y ticks cross the axis line
  layout['yaxis' + (p + 6)] = {
    overlaying: yn, anchor: xn, side: 'left',
    range: Y_RANGE[p], tickmode: 'linear', tick0: Y_RANGE[p][0], dtick: 2,
    ticks: 'inside', ticklen: 8, tickwidth: 2.5, tickcolor: '#000',
    showticklabels: false, showline: false, showgrid: false, zeroline: false, fixedrange: true
  };
  traces.push({x: [], y: [], xaxis: xn, yaxis: yIn, type: 'scatter', mode: 'lines', showlegend: false, hoverinfo: 'skip'});

  for (let k = 0; k < YEARS.length; k++) {
    const s = SERIES[p][k];
    traces.push({
      x: s[0], y: s[1], xaxis: xn, yaxis: yn,
      type: 'scatter', mode: 'lines',
      name: '<span style="font-size:29px">\u00a0' + YEARS[k] + '</span>',
      showlegend: p === 0, connectgaps: false, hoverinfo: 'skip',
      line: {color: COLORS[k], width: 4.5, shape: 'spline', smoothing: 0.8}
    });
  }

  layout.annotations.push({
    text: MONTHS[p], xref: xn + ' domain', yref: yn + ' domain',
    x: 0.5, y: 1, xanchor: 'center', yanchor: 'middle', yshift: 5.5,
    showarrow: false, font: {family: FONT, size: 33, color: '#000'}
  });
}

layout.annotations.push({
  text: 'Water temperature (°C)', xref: 'paper', yref: 'paper',
  x: 24 / W, y: 1 - 815.7 / H, xanchor: 'center', yanchor: 'middle', textangle: -90,
  showarrow: false, font: {family: FONT, size: 29, color: '#000'}
});
layout.annotations.push({
  text: 'Day', xref: 'paper', yref: 'paper',
  x: 623.2 / W, y: 1 - 1685.8 / H, xanchor: 'center', yanchor: 'middle',
  showarrow: false, font: {family: FONT, size: 29, color: '#000'}
});

Plotly.newPlot('chart', traces, layout, {staticPlot: true, displayModeBar: false});
</script></body></html>
